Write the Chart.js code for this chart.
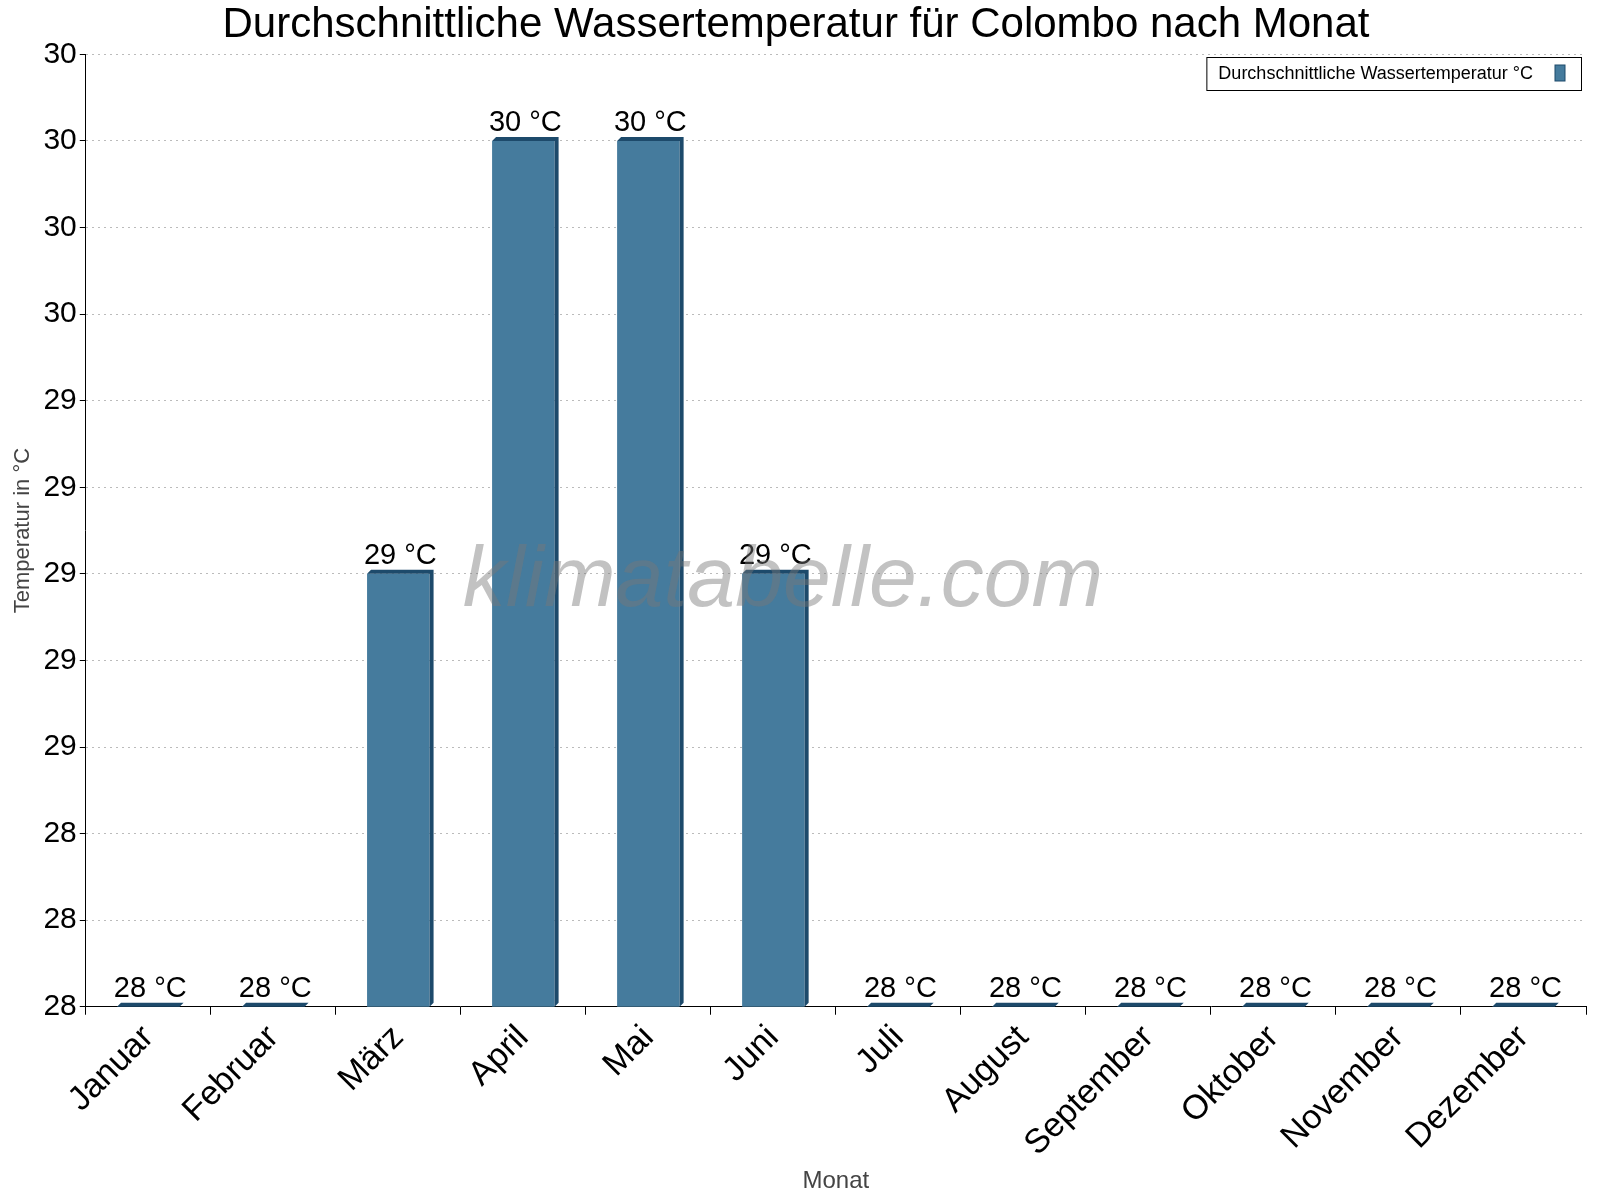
<!DOCTYPE html>
<html><head><meta charset="utf-8">
<script src="https://cdn.jsdelivr.net/npm/chart.js@4/dist/chart.umd.min.js"></script>
<style>html,body{margin:0;background:#fff}#w{width:1600px;height:1200px}</style>
</head><body><div id="w"><canvas id="c" width="1600" height="1200"></canvas></div>
<script>
const months=["Januar","Februar","März","April","Mai","Juni","Juli","August","September","Oktober","November","Dezember"];
const temps=[28,28,29,30,30,29,28,28,28,28,28,28];
const seriesLabel="Durchschnittliche Wassertemperatur °C";
const F="'Liberation Sans', Arial, sans-serif";
const extras={id:'extras',afterDatasetsDraw(ch){
  const ctx=ch.ctx, a=ch.chartArea;
  const meta=ch.getDatasetMeta(0);
  ctx.save();
  meta.data.forEach((b,i)=>{
    const w=b.width, x0=b.x-w/2, y=b.y;
    ctx.fillStyle='#1d4a6b';
    ctx.beginPath();ctx.moveTo(x0,y);ctx.lineTo(x0+4,y-4);ctx.lineTo(x0+w+4,y-4);ctx.lineTo(x0+w+4,a.bottom-4);ctx.lineTo(x0+w,a.bottom);ctx.lineTo(x0+w,y);ctx.closePath();ctx.fill();
    ctx.fillStyle='#000';ctx.font='29px '+F;ctx.textAlign='center';ctx.textBaseline='bottom';
    ctx.fillText(temps[i]+' °C',b.x+2,y-3);
  });
  ctx.font='italic 86px '+F;ctx.fillStyle='rgba(120,120,120,0.45)';ctx.textAlign='center';ctx.textBaseline='middle';
  ctx.fillText('klimatabelle.com',783,582);
  ctx.font='18px '+F;const tw=ctx.measureText(seriesLabel).width;
  const bw=tw+60,bx=a.right-5-bw,by=57;
  ctx.strokeStyle='#000';ctx.lineWidth=1;ctx.strokeRect(bx+.5,by+.5,bw,33);
  ctx.fillStyle='#000';ctx.textAlign='left';ctx.fillText(seriesLabel,bx+12,by+17);
  ctx.fillStyle='#457b9d';ctx.fillRect(bx+bw-26,by+8,10,16);ctx.strokeStyle='#1d4a6b';ctx.strokeRect(bx+bw-26,by+8,10,16);
  ctx.restore();
}};
new Chart(document.getElementById('c'),{type:'bar',
 data:{labels:months,datasets:[{label:seriesLabel,data:temps,backgroundColor:'#457b9d',barPercentage:0.5,categoryPercentage:1}]},
 options:{responsive:false,animation:false,
  layout:{padding:{left:6,right:14,top:0,bottom:0}},
  plugins:{legend:{display:false},tooltip:{enabled:false},
   title:{display:true,text:'Durchschnittliche Wassertemperatur für Colombo nach Monat',font:{family:F,size:42,weight:'normal'},color:'#000',padding:{top:0,bottom:4}}},
  scales:{
   x:{grid:{display:true,drawOnChartArea:false,tickLength:8,color:'#000'},border:{color:'#000'},ticks:{color:'#000',font:{family:F,size:34},maxRotation:45,minRotation:45},
      title:{display:true,text:'Monat',color:'#444',font:{family:F,size:24},padding:{top:0}}},
   y:{min:28,max:30.2,border:{color:'#000',dash:[2,4]},
      grid:{color:'#bbb',tickColor:'#000',tickLength:6},
      afterBuildTicks(s){s.ticks=[];for(let i=0;i<=11;i++)s.ticks.push({value:28+i*0.2});},
      ticks:{color:'#000',font:{family:F,size:30},callback:v=>Math.round(v)},
      title:{display:true,text:'Temperatur in °C',color:'#444',font:{family:F,size:22}}}
  }},
 plugins:[extras]});
</script></body></html>
